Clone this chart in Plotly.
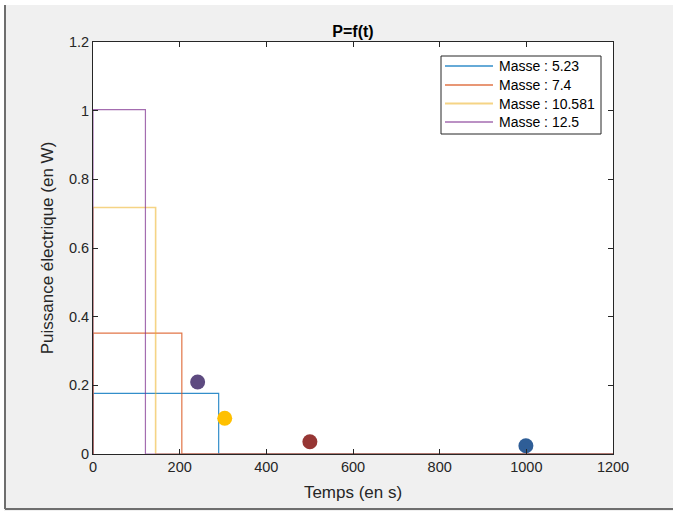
import plotly.graph_objects as go

# Data
masses = ["5.23", "7.4", "10.581", "12.5"]
powers = [0.1765, 0.352, 0.718, 1.003]          # W
durations = [290, 205, 144.5, 121]               # s
t_end = 1200
line_colors = ["rgba(0,114,189,0.8)", "rgba(217,83,25,0.8)",
               "rgba(237,177,32,0.55)", "rgba(126,47,142,0.7)"]

dot_t = [241.5, 304, 500.5, 999]
dot_p = [0.2095, 0.104, 0.0358, 0.024]
dot_colors = ["#5d4a80", "#ffc000", "#963634", "#2f5e97"]

fig = go.Figure()
for m, p, d, c in zip(masses, powers, durations, line_colors):
    fig.add_trace(go.Scatter(
        x=[0, 0, d, d, t_end], y=[0, p, p, 0, 0],
        mode="lines", line=dict(color=c, width=1.6 if m == "10.581" else 1.2),
        name="Masse : " + m, showlegend=False))

for t, p, c in zip(dot_t, dot_p, dot_colors):
    fig.add_trace(go.Scatter(x=[t], y=[p], mode="markers",
                             marker=dict(color=c, size=15, line=dict(width=0)),
                             showlegend=False, cliponaxis=False))

FONT = "Liberation Sans, Arial"
axis_common = dict(showline=True, linecolor="#262626", linewidth=1, mirror="ticks",
                   ticks="inside", ticklen=5, tickcolor="#262626", tickwidth=1,
                   showgrid=False, zeroline=False,
                   tickfont=dict(family=FONT, size=14.5, color="#262626"))


def px(x):
    return (x - 93) / 520


def py(y):
    return (454 - y) / 412


shapes = [
    dict(type="rect", xref="paper", yref="paper", x0=-0.2, x1=1.2,
         y0=py(5), y1=1.12, fillcolor="white", line=dict(width=0), layer="below"),
    dict(type="rect", xref="paper", yref="paper", x0=-0.2, x1=px(4),
         y0=-0.2, y1=1.2, fillcolor="white", line=dict(width=0), layer="below"),
    dict(type="line", xref="paper", yref="paper", x0=px(5), x1=px(5),
         y0=py(509), y1=py(5), line=dict(color="#6e6e6e", width=2)),
    dict(type="line", xref="paper", yref="paper", x0=px(5), x1=1.2,
         y0=py(509), y1=py(509), line=dict(color="#6e6e6e", width=2)),
    # legend box
    dict(type="rect", xref="paper", yref="paper", x0=px(441), x1=px(601),
         y0=py(134), y1=py(56), fillcolor="white", line=dict(color="#262626", width=1)),
]
annotations = []
legend_rows = [66, 85, 103.5, 122]
for m, c, yy in zip(masses, line_colors, legend_rows):
    shapes.append(dict(type="line", xref="paper", yref="paper", x0=px(445), x1=px(493),
                       y0=py(yy), y1=py(yy),
                       line=dict(color=c, width=2 if m == "10.581" else 1.5)))
    annotations.append(dict(xref="paper", yref="paper", x=px(497), y=py(yy),
                            xanchor="left", yanchor="middle", showarrow=False,
                            text="Masse : " + m,
                            font=dict(family=FONT, size=14, color="black")))

fig.update_layout(
    width=673, height=511,
    margin=dict(l=93, r=60, t=42, b=57),
    paper_bgcolor="#f0f0f0", plot_bgcolor="white",
    showlegend=False,
    title=dict(text="<b>P=f(t)</b>", x=353 / 673, xanchor="center",
               y=1 - 31 / 511, yanchor="middle",
               font=dict(family=FONT, size=16, color="black")),
    xaxis=dict(range=[0, 1200], tickvals=[0, 200, 400, 600, 800, 1000, 1200],
               title=dict(text="Temps (en s)", standoff=11,
                          font=dict(family=FONT, size=17, color="#262626")),
               **axis_common),
    yaxis=dict(range=[0, 1.2], tickvals=[0, 0.2, 0.4, 0.6, 0.8, 1.0, 1.2],
               ticktext=["0", "0.2", "0.4", "0.6", "0.8", "1", "1.2"],
               title=dict(text="Puissance électrique (en W)", standoff=10,
                          font=dict(family=FONT, size=17, color="#262626")),
               **axis_common),
    shapes=shapes,
    annotations=annotations,
)

fig.write_html("out.html")
